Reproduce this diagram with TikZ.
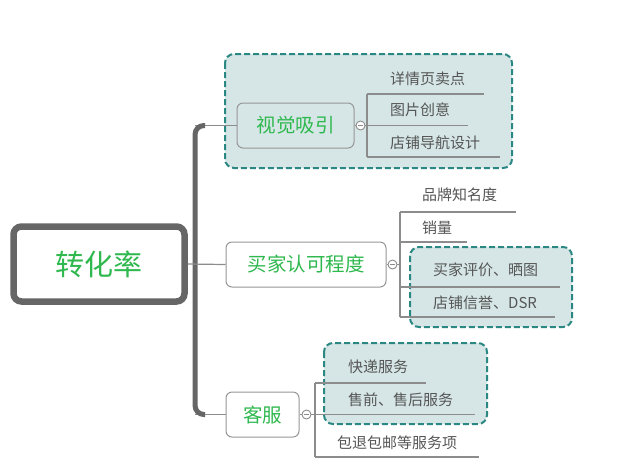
\documentclass[tikz,border=0pt]{standalone}
\usepackage{fontspec}
\setmainfont{Noto Sans CJK SC}
\definecolor{tgreen}{RGB}{46,184,78}
\definecolor{leafgray}{RGB}{85,85,85}
\definecolor{lgray}{RGB}{140,140,140}
\definecolor{boxgray}{RGB}{150,150,150}
\definecolor{dgray}{RGB}{102,102,102}
\definecolor{grpfill}{RGB}{214,230,230}
\definecolor{grpline}{RGB}{42,135,130}
\begin{document}
\begin{tikzpicture}[x=1pt,y=-1pt,
  rootbox/.style={draw=dgray, line width=6.5pt, rounded corners=8pt, fill=white,
    minimum width=171pt, minimum height=75pt, inner sep=0pt, text=tgreen,
    font=\fontsize{29}{34}\selectfont},
  midbox/.style={draw=boxgray, line width=1pt, rounded corners=6pt, fill=white,
    minimum height=45pt, inner sep=0pt, text=tgreen,
    font=\fontsize{19.5}{23}\selectfont},
  leaf/.style={anchor=west, inner sep=0pt, text=leafgray,
    font=\fontsize{15}{18}\selectfont},
  grp/.style={draw=grpline, line width=2pt, dash pattern=on 6pt off 3pt,
    fill=grpfill, rounded corners=9pt},
  conn/.style={draw=lgray, line width=1.2pt},
  trunk/.style={draw=dgray, line width=5pt, rounded corners=9pt},
  tog/.style={circle, draw=lgray, fill=white, line width=0.9pt, minimum size=9pt,
    inner sep=0pt,
    path picture={\draw[lgray, line width=0.7pt]
      ([xshift=-2.3pt]path picture bounding box.center) --
      ([xshift=2.3pt]path picture bounding box.center);}}
]
\useasboundingbox (0,0) rectangle (620,467);

% groups (boundaries)
\draw[grp] (225,54) rectangle (512,168);
\draw[grp] (410,247) rectangle (572,327);
\draw[grp] (324,343) rectangle (487,424);

% trunk coordinates
\coordinate (t1) at (195,125.5);
\coordinate (t2) at (195,414.5);

% main nodes
\node[rootbox] (root) at (99,264) {转化率};
\node[midbox, fill=grpfill, minimum width=117pt] (v) at (295.5,125.5) {视觉吸引};
\node[midbox, minimum width=160pt] (b) at (306,264.5) {买家认可程度};
\node[midbox, minimum width=73pt] (k) at (262.5,414.5) {客服};

% trunk and branches
\draw[conn] (t1) -- (v.west);
\draw[conn] (t2) -- (k.west);
\draw[trunk] ([xshift=10pt]t1) -- (t1) -- (t2) -- ([xshift=10pt]t2);
\draw[conn] (root.east) -- (b.west);

% toggles
\node[tog] (vc) at ([xshift=6pt]v.east) {};
\node[tog] (bc) at ([xshift=6pt]b.east) {};
\node[tog] (kc) at ([xshift=7pt]k.east) {};
\draw[conn, line width=0.9pt] (v.east) -- (vc.west);
\draw[conn, line width=0.9pt] (b.east) -- (bc.west);
\draw[conn, line width=0.9pt] (k.east) -- (kc.west);

% ---- children of 视觉吸引
\node[leaf] (v1) at (390,79) {详情页卖点};
\node[leaf] (v2) at (390,110) {图片创意};
\node[leaf] (v3) at (390,143) {店铺导航设计};
\coordinate (va) at (367,94);
\coordinate (vb) at (367,157);
\draw[conn] (va) -- (vb);
\draw[conn] (va) -- (484,94);
\draw[conn] (vc.east) -- (468,125.5);
\draw[conn] (vb) -- (500,157);

% ---- children of 买家认可程度
\node[leaf] (b1) at (422,195) {品牌知名度};
\node[leaf] (b2) at (422,228) {销量};
\node[leaf] (b3) at (433,270) {买家评价、晒图};
\node[leaf] (b4) at (433,303) {店铺信誉、DSR};
\coordinate (ba) at (400,212);
\coordinate (bb) at (400,317);
\draw[conn] (ba) -- (bb);
\draw[conn] (bc.east) -- (ba |- bc.east);
\draw[conn] (ba) -- (516,212);
\draw[conn] (400,242) -- (467,242);
\draw[conn] (400,287) -- (560,287);
\draw[conn] (bb) -- (555,317);

% ---- children of 客服
\node[leaf] (k1) at (348,367) {快递服务};
\node[leaf] (k2) at (348,400) {售前、售后服务};
\node[leaf] (k3) at (337,443) {包退包邮等服务项};
\coordinate (ka) at (315,383);
\coordinate (kb) at (315,457);
\draw[conn] (ka) -- (kb);
\draw[conn] (ka) -- (426,383);
\draw[conn] (kc.east) -- (475,414.5);
\draw[conn] (kb) -- (479,457);
\end{tikzpicture}
\end{document}
